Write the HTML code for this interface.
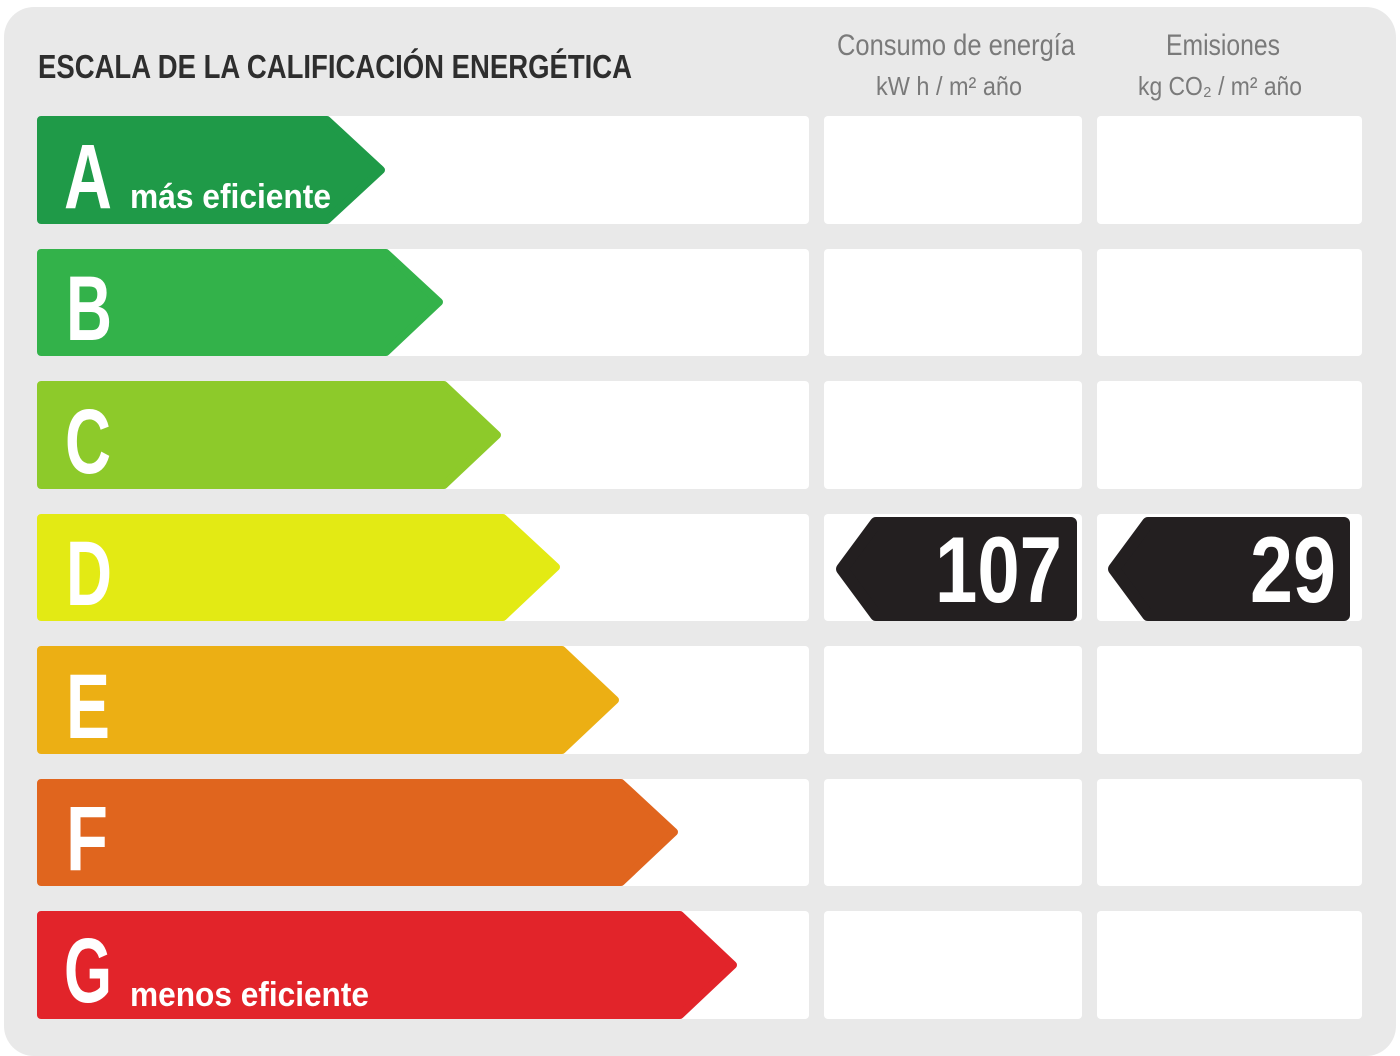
<!DOCTYPE html>
<html><head><meta charset="utf-8"><style>html,body{margin:0;padding:0;background:#fff}svg{display:block}</style></head>
<body>
<svg width="1400" height="1056" viewBox="0 0 1400 1056" xmlns="http://www.w3.org/2000/svg" font-family="Liberation Sans, sans-serif">
<rect x="4" y="7" width="1392" height="1049" rx="30" fill="#e9e9e9"/>
<text x="38" y="78" font-size="33" font-weight="bold" fill="#2e2e2e" textLength="594" lengthAdjust="spacingAndGlyphs">ESCALA DE LA CALIFICACIÓN ENERGÉTICA</text>
<g fill="#7a7a7a" text-anchor="middle">
<text x="956" y="55" font-size="30" textLength="238" lengthAdjust="spacingAndGlyphs">Consumo de energía</text>
<text x="949" y="95" font-size="26" textLength="146" lengthAdjust="spacingAndGlyphs">kW h / m² año</text>
<text x="1223" y="55" font-size="30" textLength="114" lengthAdjust="spacingAndGlyphs">Emisiones</text>
<text x="1220" y="95" font-size="26" textLength="164" lengthAdjust="spacingAndGlyphs">kg CO₂ / m² año</text>
</g>
<g fill="#fff">
<rect x="37" y="116" width="772" height="108" rx="4"/><rect x="824" y="116" width="258" height="108" rx="4"/><rect x="1097" y="116" width="265" height="108" rx="4"/>
<rect x="37" y="249" width="772" height="107" rx="4"/><rect x="824" y="249" width="258" height="107" rx="4"/><rect x="1097" y="249" width="265" height="107" rx="4"/>
<rect x="37" y="381" width="772" height="108" rx="4"/><rect x="824" y="381" width="258" height="108" rx="4"/><rect x="1097" y="381" width="265" height="108" rx="4"/>
<rect x="37" y="514" width="772" height="107" rx="4"/><rect x="824" y="514" width="258" height="107" rx="4"/><rect x="1097" y="514" width="265" height="107" rx="4"/>
<rect x="37" y="646" width="772" height="108" rx="4"/><rect x="824" y="646" width="258" height="108" rx="4"/><rect x="1097" y="646" width="265" height="108" rx="4"/>
<rect x="37" y="779" width="772" height="107" rx="4"/><rect x="824" y="779" width="258" height="107" rx="4"/><rect x="1097" y="779" width="265" height="107" rx="4"/>
<rect x="37" y="911" width="772" height="108" rx="4"/><rect x="824" y="911" width="258" height="108" rx="4"/><rect x="1097" y="911" width="265" height="108" rx="4"/>
</g>
<g stroke-width="8" stroke-linejoin="round">
<path d="M41,120 H327 L381,170 L327,220 H41 Z" fill="#1f9a48" stroke="#1f9a48"/>
<path d="M41,253 H386 L439,302 L386,352 H41 Z" fill="#33b24a" stroke="#33b24a"/>
<path d="M41,385 H444 L497,435 L444,485 H41 Z" fill="#8dca2a" stroke="#8dca2a"/>
<path d="M41,518 H503 L556,567 L503,617 H41 Z" fill="#e3ea14" stroke="#e3ea14"/>
<path d="M41,650 H562 L615,700 L562,750 H41 Z" fill="#ecaf14" stroke="#ecaf14"/>
<path d="M41,783 H621 L674,832 L621,882 H41 Z" fill="#e0651e" stroke="#e0651e"/>
<path d="M41,915 H680 L733,965 L680,1015 H41 Z" fill="#e2242a" stroke="#e2242a"/>
</g>
<g fill="#fff" font-weight="bold" font-size="92">
<text x="64" y="208" textLength="48" lengthAdjust="spacingAndGlyphs">A</text>
<text x="66" y="340" textLength="46" lengthAdjust="spacingAndGlyphs">B</text>
<text x="65" y="473" textLength="46" lengthAdjust="spacingAndGlyphs">C</text>
<text x="66" y="605" textLength="46" lengthAdjust="spacingAndGlyphs">D</text>
<text x="66" y="738" textLength="44" lengthAdjust="spacingAndGlyphs">E</text>
<text x="66" y="870" textLength="42" lengthAdjust="spacingAndGlyphs">F</text>
<text x="64" y="1002" textLength="48" lengthAdjust="spacingAndGlyphs">G</text>
<text x="130" y="208" font-size="34" textLength="201" lengthAdjust="spacingAndGlyphs">más eficiente</text>
<text x="130" y="1006" font-size="34" textLength="239" lengthAdjust="spacingAndGlyphs">menos eficiente</text>
</g>
<g fill="#231f20" stroke="#231f20" stroke-width="12" stroke-linejoin="round">
<path d="M876,523 H1071 V615 H876 L842,569 Z"/>
<path d="M1148,523 H1344 V615 H1148 L1114,569 Z"/>
</g>
<g fill="#fff" font-weight="bold" font-size="94">
<text x="935" y="602" textLength="127" lengthAdjust="spacingAndGlyphs">107</text>
<text x="1250" y="602" textLength="86" lengthAdjust="spacingAndGlyphs">29</text>
</g>
</svg>
</body></html>
